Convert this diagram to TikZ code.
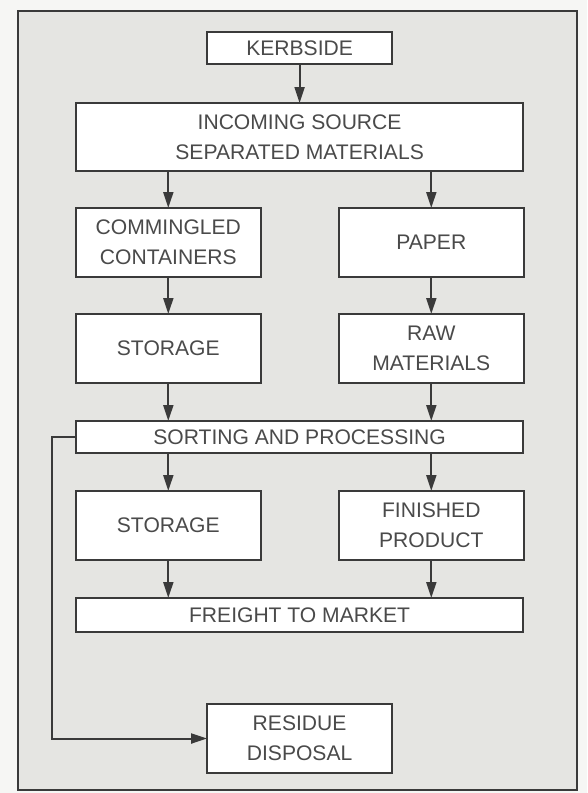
\documentclass[tikz,border=0pt]{standalone}
\usepackage{fontspec}
\setsansfont{Liberation Sans}
\usetikzlibrary{arrows.meta,positioning,backgrounds}
\definecolor{inkgray}{HTML}{3A3A3A}
\definecolor{textgray}{HTML}{4A4A4A}
\definecolor{paperbg}{HTML}{E5E5E2}
\definecolor{pagebg}{HTML}{F6F6F4}

\begin{document}
\begin{tikzpicture}[
  font=\sffamily\fontsize{15}{21.5}\selectfont,
  node distance=9.5mm and 19.5mm,
  block/.style={draw=inkgray, fill=white, text=textgray, line width=0.5mm, minimum width=46.25mm, minimum height=17.25mm, inner sep=0pt, outer sep=0pt, align=center},
  bar/.style={block, minimum width=111.9mm, minimum height=8mm},
  flow/.style={-{Triangle[length=4mm, width=2.5mm]}, line width=0.5mm, draw=inkgray},
]

\node[block, minimum height=8mm] (kerb) at (0,0) {KERBSIDE};
\node[bar, minimum height=17mm, below=9.75mm of kerb] (incoming) {INCOMING SOURCE\\SEPARATED MATERIALS};
\node[block, below right=9.25mm and 0mm of incoming.south west] (mixed) {COMMINGLED\\CONTAINERS};
\node[block, right=of mixed] (paper) {PAPER};
\node[block, below=9.25mm of mixed] (store) {STORAGE};
\node[block, below=9.25mm of paper] (raw) {RAW\\MATERIALS};
\node[bar, below right=9.5mm and 0mm of store.south west] (sort) {SORTING AND PROCESSING};
\node[block, below right=9.5mm and 0mm of sort.south west] (storeb) {STORAGE};
\node[block, right=of storeb] (finished) {FINISHED\\PRODUCT};
\node[bar, minimum height=8.5mm, below right=9.5mm and 0mm of storeb.south west] (freight) {FREIGHT TO MARKET};
\node[block, below=18mm of freight] (residue) {RESIDUE\\DISPOSAL};

\draw[flow] (kerb) -- (incoming);
\draw[flow] (mixed.north |- incoming.south) -- (mixed);
\draw[flow] (paper.north |- incoming.south) -- (paper);
\draw[flow] (mixed) -- (store);
\draw[flow] (paper) -- (raw);
\draw[flow] (store) -- (store.south |- sort.north);
\draw[flow] (raw) -- (raw.south |- sort.north);
\draw[flow] (storeb.north |- sort.south) -- (storeb);
\draw[flow] (finished.north |- sort.south) -- (finished);
\draw[flow] (storeb) -- (storeb.south |- freight.north);
\draw[flow] (finished) -- (finished.south |- freight.north);
\draw[flow] (sort.west) -- ++(-6mm,0) |- (residue.west);

\begin{scope}[on background layer]
  \fill[pagebg] (-74.9mm,12mm) rectangle (71.9mm,-186.25mm);
  \draw[inkgray, line width=0.5mm, fill=paperbg] (-70.4mm,9.25mm) rectangle (69.4mm,-185.5mm);
\end{scope}
\useasboundingbox (-74.9mm,12mm) rectangle (71.9mm,-186.25mm);
\end{tikzpicture}
\end{document}
